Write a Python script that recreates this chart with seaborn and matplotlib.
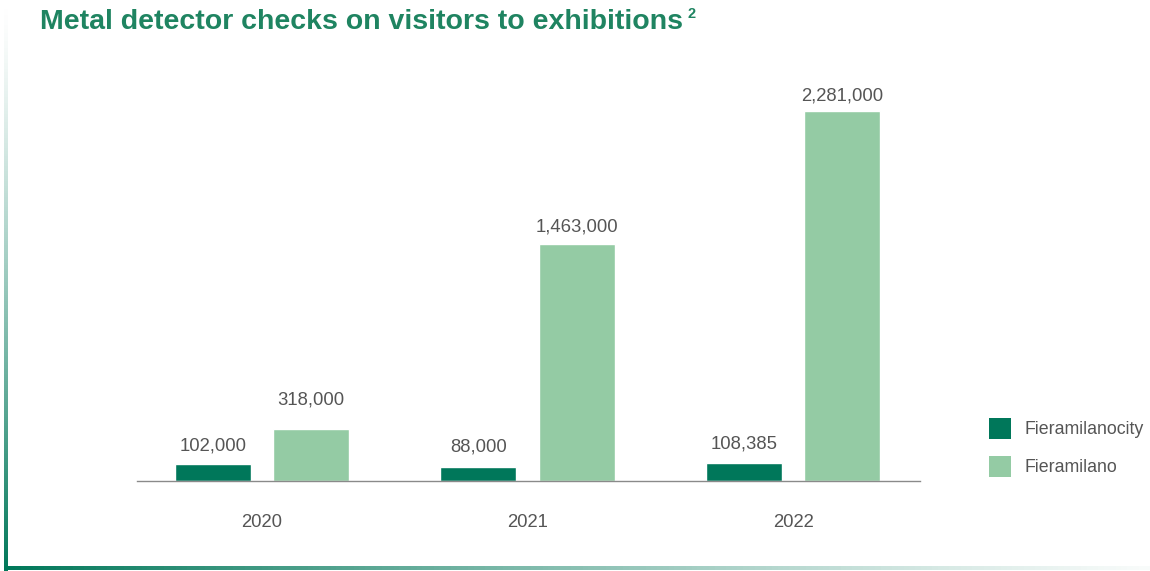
import numpy as np
import pandas as pd
import seaborn as sns
import matplotlib.pyplot as plt
from matplotlib.patches import Patch

# dati
years = ['2020', '2021', '2022']
fieramilanocity = [102000, 88000, 108385]
fieramilano = [318000, 1463000, 2281000]
series = ['Fieramilanocity', 'Fieramilano']
colors = ['#00775a', '#94cba4']

# distanza etichetta-barra (pt), come nell'originale
label_pad = [[7.5, 8, 7.5], [15, 6, 4.5]]

df = pd.DataFrame({
    'year': years * 2,
    'value': fieramilanocity + fieramilano,
    'site': [series[0]] * 3 + [series[1]] * 3,
})

sns.set_style('white')
plt.rcParams['font.family'] = ['Liberation Sans', 'DejaVu Sans']
text_col = '#555555'

fig = plt.figure(figsize=(11.5, 5.71), dpi=100)
ax = fig.add_axes([137 / 1150, 90 / 571, 783 / 1150, 421 / 571])

sns.barplot(data=df, x='year', y='value', hue='site', palette=colors,
            saturation=1, width=0.74, gap=0.227, ax=ax, legend=False)

# etichette sopra le barre
for cont, pads in zip(ax.containers, label_pad):
    for bar, v, pad in zip(cont, cont.datavalues, pads):
        ax.annotate(f'{v:,.0f}', (bar.get_x() + bar.get_width() / 2, bar.get_height()),
                    xytext=(0, pad), textcoords='offset points', ha='center', va='bottom',
                    fontsize=13.3, color=text_col)

ax.set_ylim(0, 2595000)
ax.set_xlim(-0.471, 2.478)
ax.set_xlabel('')
ax.set_ylabel('')
ax.set_yticks([])
ax.tick_params(axis='x', length=0, pad=23.5, labelsize=13.3, labelcolor=text_col)
for s in ['top', 'left', 'right']:
    ax.spines[s].set_visible(False)
ax.spines['bottom'].set_color('#8a8a8a')
ax.spines['bottom'].set_linewidth(1)

# legenda
handles = [Patch(facecolor=c, edgecolor='none') for c in colors]
fig.legend(handles, series, loc='upper left', bbox_to_anchor=(989 / 1150, 1 - 418 / 571),
           frameon=False, fontsize=12.8, labelcolor=text_col, borderpad=0, borderaxespad=0,
           handlelength=1.25, handleheight=1.45, handletextpad=0.75, labelspacing=0.95)

# titolo
title_col = '#1f8461'
fig.text(40 / 1150, 1 - 22 / 571, 'Metal detector checks on visitors to exhibitions',
         fontsize=20.5, fontweight='bold', color=title_col, va='center', ha='left')
fig.text(687 / 1150, 1 - 14 / 571, '2', fontsize=10.5, fontweight='bold',
         color=title_col, va='center', ha='left')

# cornice sfumata a sinistra e in basso
green = np.array([0.0, 0.47, 0.35])
grad_v = np.zeros((200, 1, 4))
grad_v[:, 0, :3] = green
grad_v[:, 0, 3] = np.linspace(0.0, 1.0, 200) ** 1.3
ax_l = fig.add_axes([4 / 1150, 0, 4 / 1150, 1])
ax_l.imshow(grad_v, aspect='auto', origin='upper', extent=[0, 1, 0, 1])
ax_l.axis('off')

grad_h = np.zeros((1, 200, 4))
grad_h[0, :, :3] = green
grad_h[0, :, 3] = np.linspace(1.0, 0.05, 200) ** 1.2
ax_b = fig.add_axes([4 / 1150, 1 / 571, 1146 / 1150, 4 / 571])
ax_b.imshow(grad_h, aspect='auto', extent=[0, 1, 0, 1])
ax_b.axis('off')

fig.savefig('out.png', dpi=100)
